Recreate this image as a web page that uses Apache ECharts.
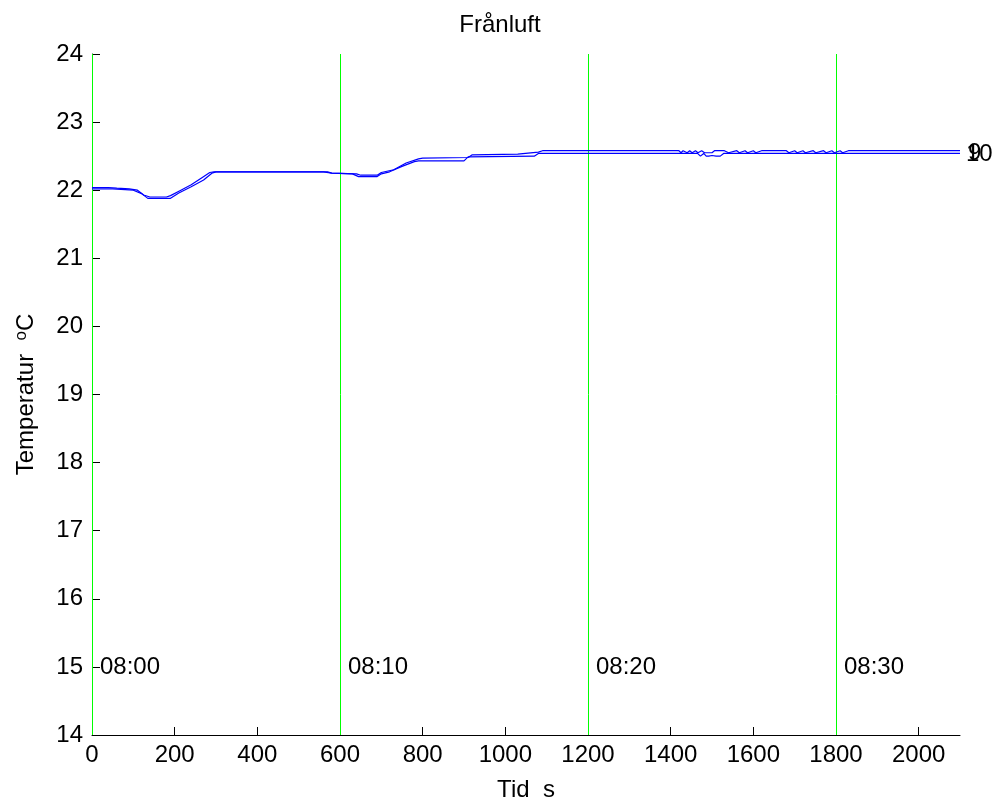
<!DOCTYPE html>
<html>
<head>
<meta charset="utf-8">
<script src="https://cdn.jsdelivr.net/npm/echarts@6/dist/echarts.min.js"></script>
<style>html,body{margin:0;padding:0;background:#fff}#c{width:1000px;height:807px}</style>
</head>
<body>
<div id="c"></div>
<script>
// ---- data ----
const titleText = 'Frånluft';
const xTicks = [0, 200, 400, 600, 800, 1000, 1200, 1400, 1600, 1800, 2000];
const yTicks = [14, 15, 16, 17, 18, 19, 20, 21, 22, 23, 24];

const times9 = [0, 40, 60, 90, 110, 125, 140, 180, 190, 215, 240, 265, 285, 295, 570, 580, 640, 650, 690, 700, 730, 760, 790, 800, 910, 920, 1030, 1080, 1090,
  1420, 1425, 1430, 1440, 1446, 1452, 1460, 1466, 1475, 1482, 1500, 1506, 1530, 1540, 1560, 1566, 1580, 1586, 1600, 1606, 1620, 1626,
  1680, 1686, 1700, 1706, 1720, 1726, 1745, 1751, 1770, 1776, 1790, 1796, 1810, 1816, 1830, 1836, 2100];
const temps9 = [22.04, 22.04, 22.03, 22.02, 22.0, 21.93, 21.9, 21.9, 21.92, 22.0, 22.08, 22.18, 22.26, 22.27, 22.27, 22.25, 22.24, 22.22, 22.22, 22.26, 22.3, 22.4, 22.46, 22.47, 22.48, 22.52, 22.53, 22.56, 22.58,
  22.58, 22.55, 22.58, 22.55, 22.58, 22.55, 22.58, 22.55, 22.58, 22.55, 22.55, 22.58, 22.58, 22.55, 22.58, 22.55, 22.58, 22.55, 22.58, 22.55, 22.58, 22.58,
  22.58, 22.55, 22.58, 22.55, 22.58, 22.55, 22.58, 22.55, 22.58, 22.55, 22.58, 22.55, 22.58, 22.55, 22.58, 22.58, 22.58];

const times10 = [0, 50, 100, 120, 135, 190, 210, 240, 270, 290, 300, 560, 580, 630, 645, 690, 700, 720, 750, 780, 790, 900, 910, 1070, 1080,
  1465, 1472, 1480, 1486, 1492, 1500, 1510, 1520, 1528, 2100];
const temps10 = [22.02, 22.02, 22.0, 21.95, 21.88, 21.88, 21.96, 22.05, 22.15, 22.25, 22.27, 22.27, 22.25, 22.24, 22.2, 22.2, 22.24, 22.27, 22.35, 22.42, 22.43, 22.43, 22.49, 22.5, 22.54,
  22.54, 22.5, 22.54, 22.5, 22.5, 22.51, 22.5, 22.5, 22.54, 22.54];

const markerTimes = [0, 600, 1200, 1800];
const markerLabels = ['08:00', '08:10', '08:20', '08:30'];
const markerY = 15;
const seriesNames = ['9', '10'];

// ---- chart ----
const zip = (a, b) => a.map((v, i) => [v, b[i]]);
const chart = echarts.init(document.getElementById('c'), null, {renderer: 'canvas'});
const font = 'Liberation Sans, Arial, Helvetica, sans-serif';
const blue = '#0000ff';
const green = '#00ff00';
const fs = 24;

function lineSeries(name, times, temps, labelOffset) {
  return {
    name: name,
    type: 'line',
    data: zip(times, temps),
    showSymbol: false,
    symbol: 'none',
    lineStyle: {color: blue, width: 1.2},
    itemStyle: {color: blue},
    animation: false,
    z: 5,
    endLabel: {
      show: true, formatter: name, color: '#000', fontFamily: font, fontSize: fs,
      distance: 6, offset: labelOffset
    }
  };
}

const option = {
  backgroundColor: '#fff',
  animation: false,
  title: {
    text: titleText, left: 'center', top: 8,
    textStyle: {fontFamily: font, fontSize: fs, fontWeight: 'normal', color: '#000'}
  },
  grid: {left: 92, right: 40, top: 54, bottom: 67, containLabel: false},
  xAxis: {
    type: 'value', min: 0, max: 2100, interval: 200,
    name: 'Tid  s', nameLocation: 'middle', nameGap: 43,
    nameTextStyle: {fontFamily: font, fontSize: fs, color: '#000'},
    axisLine: {show: true, lineStyle: {color: '#000', width: 1}},
    axisTick: {show: true, inside: true, length: 8, lineStyle: {color: '#000'}, customValues: xTicks},
    axisLabel: {fontFamily: font, fontSize: fs, color: '#000', margin: 8, customValues: xTicks,
      formatter: v => String(v)},
    splitLine: {show: false}
  },
  yAxis: {
    type: 'value', min: 14, max: 24, interval: 1,
    name: 'Temperatur  {sup|o}C', nameLocation: 'middle', nameGap: 52, nameRotate: 90,
    nameTextStyle: {fontFamily: font, fontSize: fs, color: '#000',
      rich: {sup: {fontFamily: font, fontSize: 17, color: '#000', padding: [0, 0, 10, 0]}}},
    axisLine: {show: true, lineStyle: {color: '#000', width: 1}},
    axisTick: {show: true, inside: true, length: 8, lineStyle: {color: '#000'}, customValues: yTicks},
    axisLabel: {fontFamily: font, fontSize: fs, color: '#000', margin: 9, customValues: yTicks,
      formatter: v => String(v)},
    splitLine: {show: false}
  },
  series: [
    lineSeries(seriesNames[0], times9, temps9, [2, 3]),
    lineSeries(seriesNames[1], times10, temps10, [0, 1]),
    {
      type: 'scatter',
      data: markerTimes.map(t => [t, markerY]),
      symbolSize: 0,
      itemStyle: {opacity: 1},
      z: 6,
      label: {
        show: true, position: 'right', distance: 8,
        formatter: p => markerLabels[p.dataIndex],
        fontFamily: font, fontSize: fs, color: '#000', opacity: 1
      },
      markLine: {
        silent: true, symbol: 'none', animation: false,
        label: {show: false},
        lineStyle: {color: green, width: 1, type: 'solid'},
        data: markerTimes.map(t => ({xAxis: t}))
      }
    }
  ]
};
chart.setOption(option);
</script>
</body>
</html>
